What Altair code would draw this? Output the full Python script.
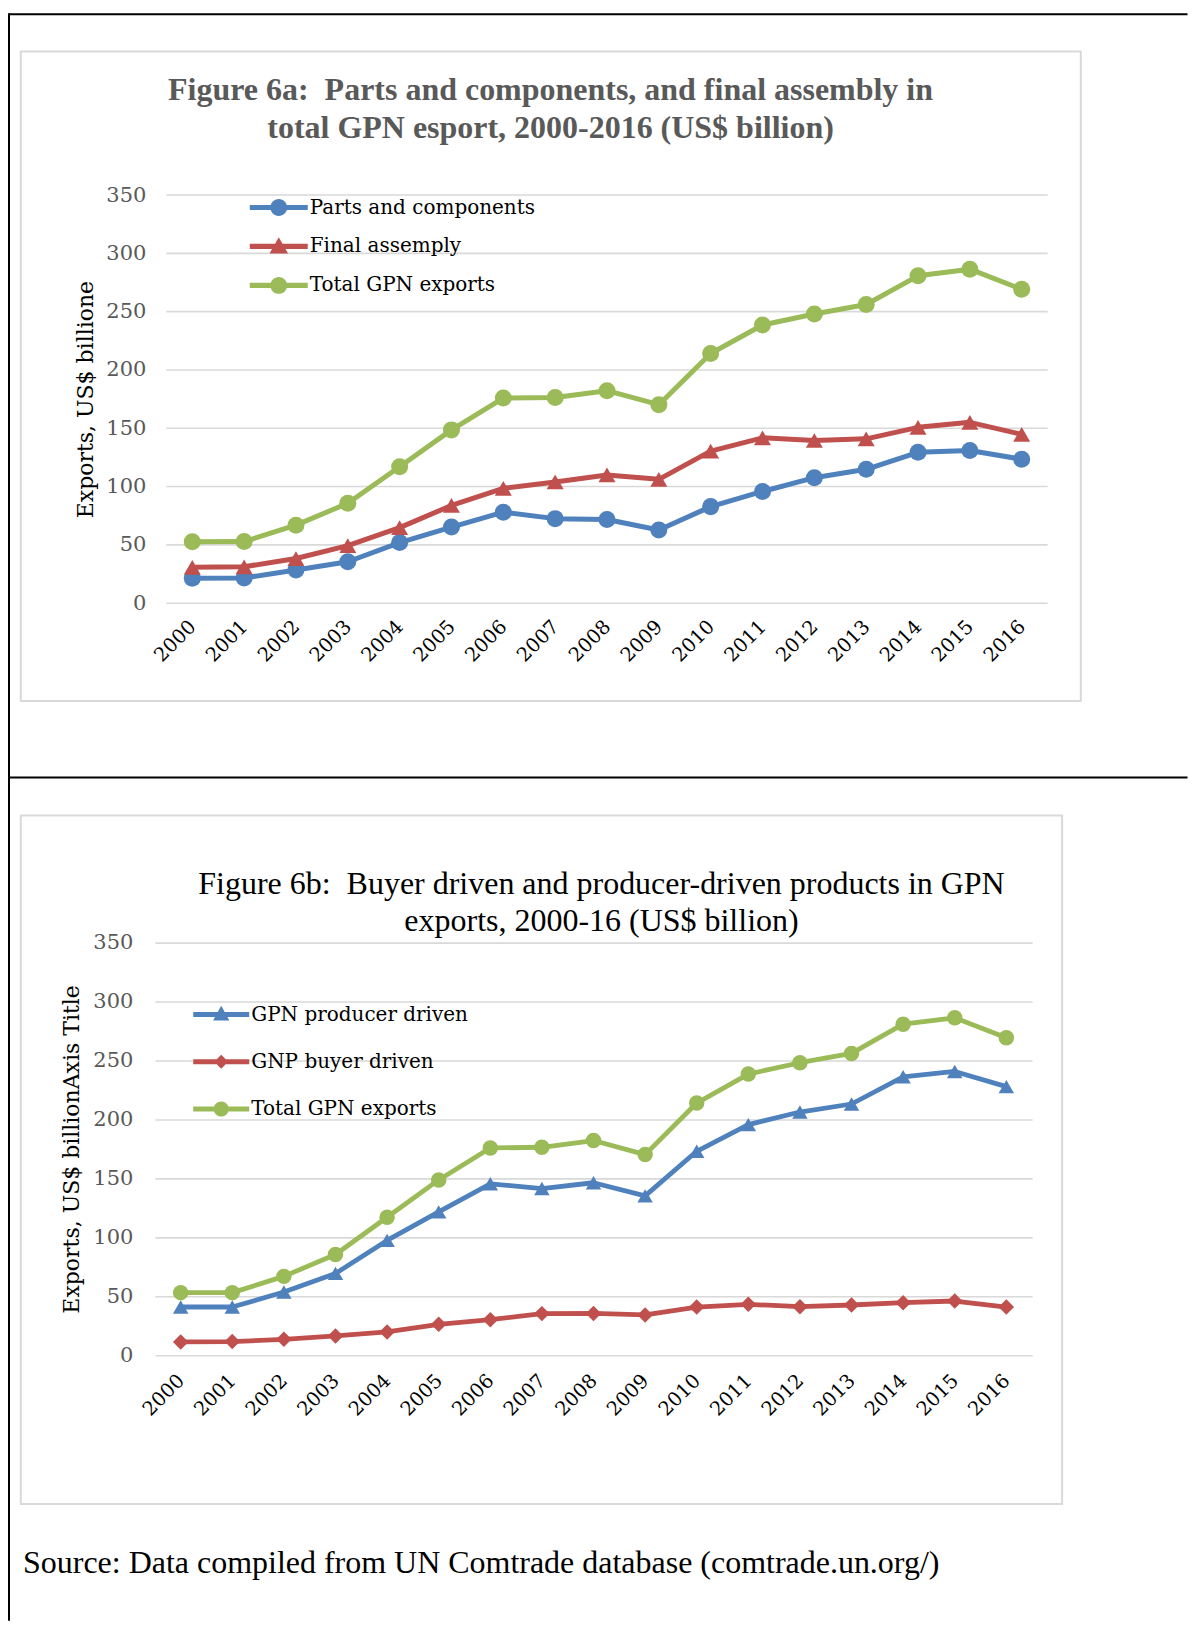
import altair as alt
import pandas as pd

# ---------------- data ----------------
years = [str(y) for y in range(2000, 2017)]

# Figure 6a
parts_components = [21.4, 21.6, 28.5, 35.5, 52.0, 65.3, 78.0, 72.5, 71.8, 62.8, 82.8, 95.8, 107.6, 114.8, 129.4, 130.9, 123.4]
final_assembly = [30.8, 31.2, 38.3, 49.3, 64.8, 83.8, 98.5, 104.0, 110.0, 106.2, 130.4, 141.8, 139.5, 140.9, 150.8, 155.1, 144.8]
total_gpn_a = [52.6, 52.8, 66.9, 85.7, 117.0, 148.6, 175.9, 176.4, 182.2, 170.2, 214.1, 238.5, 248.0, 256.1, 280.7, 286.4, 269.2]

# Figure 6b
producer_driven = [40.9, 40.9, 53.6, 69.4, 97.4, 121.6, 145.4, 141.4, 146.3, 135.2, 173.0, 195.6, 206.3, 213.1, 236.2, 240.7, 227.8]
buyer_driven = [11.3, 11.6, 13.5, 16.4, 19.8, 26.2, 30.2, 35.3, 35.5, 34.2, 40.9, 43.2, 41.2, 42.6, 44.6, 46.0, 40.9]
total_gpn_b = [53.1, 53.1, 66.9, 85.5, 117.1, 148.7, 175.8, 176.4, 182.1, 170.2, 213.9, 238.5, 248.1, 256.0, 280.8, 286.2, 269.3]

y_ticks = [0, 50, 100, 150, 200, 250, 300, 350]

names_a = ["Parts and components", "Final assemply", "Total GPN exports"]
names_b = ["GPN producer driven", "GNP buyer driven", "Total GPN exports"]
colors = ["#4F81BD", "#C0504D", "#9BBB59"]

NB = "\u00a0"
title_a = ["Figure 6a:" + NB + " Parts and components, and final assembly in",
           "total GPN esport, 2000-2016 (US$ billion)"]
title_b = ["Figure 6b:" + NB + " Buyer driven and producer-driven products in GPN",
           "exports, 2000-16 (US$ billion)"]
ytitle_a = "Exports, US$ billione"
ytitle_b = "Exports, US$ billionAxis Title"
source_text = "Source: Data compiled from UN Comtrade database (comtrade.un.org/)"


def long_df(names, series):
    rows = []
    for n, vals in zip(names, series):
        for yr, v in zip(years, vals):
            rows.append({"year": yr, "series": n, "value": v})
    return pd.DataFrame(rows)


df_a = long_df(names_a, [parts_components, final_assembly, total_gpn_a])
df_b = long_df(names_b, [producer_driven, buyer_driven, total_gpn_b])
df_ticks = pd.DataFrame({"value": y_ticks})

AX_FONT = "DejaVu Serif"
TXT_FONT = "Liberation Serif"
GRID = "#D9D9D9"
blank = alt.Data(values=[{}])

# legend symbols: line segment + marker (unit square -1..1)
P_CIRCLE_A = "M-1,-0.09H1V0.09H-1Z M0.29,0 A0.29,0.29 0 1,1 -0.29,0 A0.29,0.29 0 1,1 0.29,0 Z"
P_TRI_A = "M-1,-0.09H1V0.09H-1Z M0,-0.32 L0.32,0.24 L-0.32,0.24 Z"
P_CIRCLE_B = "M-1,-0.09H1V0.09H-1Z M0.27,0 A0.27,0.27 0 1,1 -0.27,0 A0.27,0.27 0 1,1 0.27,0 Z"
P_TRI_B = "M-1,-0.09H1V0.09H-1Z M0,-0.31 L0.29,0.21 L-0.29,0.21 Z"
P_DIAM_B = "M-1,-0.09H1V0.09H-1Z M0,-0.25 L0.25,0 L0,0.25 L-0.25,0 Z"


def hrule(x1, x2, y, color="black", w=2):
    return alt.Chart(blank).mark_rule(color=color, strokeWidth=w).encode(
        x=alt.value(x1), x2=alt.value(x2), y=alt.value(y))


def vrule(x, y1, y2, color="black", w=2):
    return alt.Chart(blank).mark_rule(color=color, strokeWidth=w).encode(
        x=alt.value(x), y=alt.value(y1), y2=alt.value(y2))


def frame(x1, x2, y1, y2):
    return alt.Chart(blank).mark_rect(fillOpacity=0, stroke=GRID, strokeWidth=2).encode(
        x=alt.value(x1), x2=alt.value(x2), y=alt.value(y1), y2=alt.value(y2))


def label(txt, x, y, size=32, weight="normal", color="black", align="center"):
    return alt.Chart(blank).mark_text(font=TXT_FONT, fontSize=size, fontWeight=weight,
                                      color=color, align=align, baseline="middle").encode(
        x=alt.value(x), y=alt.value(y), text=alt.value(txt))


def panel(df, names, shapes, msize, lwidth, paths, lsize, lx, ly, rowpad, width, height,
          x_range, ylabpad, ytitle, ytx, xlabpad, manual_grid, grid_x):
    x_scale = alt.Scale(type="point", padding=0.5, range=x_range) if x_range else \
        alt.Scale(type="point", padding=0.5)
    x_enc = alt.X("year:O", scale=x_scale, sort=years,
                  axis=alt.Axis(title=None, labelAngle=315, labelAlign="right",
                                labelBaseline="middle", labelFont=AX_FONT, labelFontSize=19.5,
                                labelColor="black", labelPadding=xlabpad, ticks=False,
                                domain=False, grid=False, labelOverlap=False))
    y_axis = alt.Axis(values=y_ticks, title=ytitle, titleFont=AX_FONT, titleFontSize=22,
                      titleFontWeight="normal", titleColor="black", titleX=ytx,
                      titleY=height / 2, titleAngle=270, titleAlign="center",
                      titleBaseline="middle", labelFont=AX_FONT, labelFontSize=21,
                      labelColor="#595959", labelPadding=ylabpad, ticks=False,
                      domain=False, grid=not manual_grid, gridColor=GRID, gridWidth=1.6)
    y_enc = alt.Y("value:Q", scale=alt.Scale(domain=[0, 350], nice=False), axis=y_axis)

    layers = []
    if manual_grid:
        layers.append(alt.Chart(df_ticks).mark_rule(color=GRID, strokeWidth=1.6).encode(
            y=y_enc, x=alt.value(grid_x[0]), x2=alt.value(grid_x[1])))
    lines = alt.Chart(df).mark_line(strokeWidth=lwidth, strokeCap="round", strokeJoin="round").encode(
        x=x_enc, y=y_enc,
        color=alt.Color("series:N", scale=alt.Scale(domain=names, range=colors), legend=None))
    pts = alt.Chart(df).mark_point(filled=True, opacity=1, size=msize).encode(
        x=x_enc, y=y_enc,
        color=alt.Color("series:N", scale=alt.Scale(domain=names, range=colors), legend=None),
        shape=alt.Shape("series:N", scale=alt.Scale(domain=names, range=shapes), legend=None))
    leg = alt.Legend(title=None, orient="none", legendX=lx, legendY=ly, symbolSize=lsize,
                     symbolStrokeWidth=0, symbolOpacity=1, labelFont=AX_FONT,
                     labelFontSize=20, labelColor="black", labelOffset=2, labelLimit=600,
                     rowPadding=rowpad, padding=0)
    proxy = alt.Chart(pd.DataFrame({"series": names})).transform_filter("false").mark_point(
        filled=True).encode(
        color=alt.Color("series:N", scale=alt.Scale(domain=names, range=colors), legend=leg),
        shape=alt.Shape("series:N", scale=alt.Scale(domain=names, range=paths), legend=leg))
    layers += [lines, pts, proxy]
    return layers


# ---------- panel a (plot origin at page x=155, y=193.5) ----------
H_A = 408.5
deco_a = [
    frame(-134.2, 926.7, -143.6, 506.5),
    hrule(-146, 1033.5, -181),
    vrule(-146, -182, 1427),
    hrule(-146, 1033.5, 583),
    label(title_a[0], 396, -105.5, weight="bold", color="#595959"),
    label(title_a[1], 396, -67.5, weight="bold", color="#595959"),
]
layers_a = panel(df_a, names_a, ["circle", "triangle-up", "circle"], 290, 5,
                 [P_CIRCLE_A, P_TRI_A, P_CIRCLE_A], 3364, 95, -16.5, -3.2,
                 893.5, H_A, [11.5, 893.5], 9, ytitle_a, -69, 20, True, (11.5, 893.5))
chart_a = alt.layer(*deco_a, *layers_a).resolve_scale(
    color="independent", shape="independent").properties(width=893.5, height=H_A)

# ---------- panel b (plot origin at page x=155, y=941.2) ----------
H_B = 413
deco_b = [
    frame(-134.2, 908, -127.2, 561.8),
    label(title_b[0], 447, -58.2),
    label(title_b[1], 447, -21.2),
    label(source_text, -132, 620.8, align="left"),
]
layers_b = panel(df_b, names_b, ["triangle-up", "diamond", "circle"], 240, 4.8,
                 [P_TRI_B, P_DIAM_B, P_CIRCLE_B], 3136, 38.4, 44, 9.3,
                 878, H_B, None, 22, ytitle_b, -83, 22, False, None)
chart_b = alt.layer(*deco_b, *layers_b).resolve_scale(
    color="independent", shape="independent").properties(width=878, height=H_B)

chart = alt.vconcat(chart_a, chart_b, spacing=339.2, bounds="flush").properties(
    padding={"left": 0, "top": 3.5, "right": 0, "bottom": 0},
    background="white",
).configure_view(stroke=None)

chart.save("out.html", embed_options={"renderer": "svg", "actions": False})
